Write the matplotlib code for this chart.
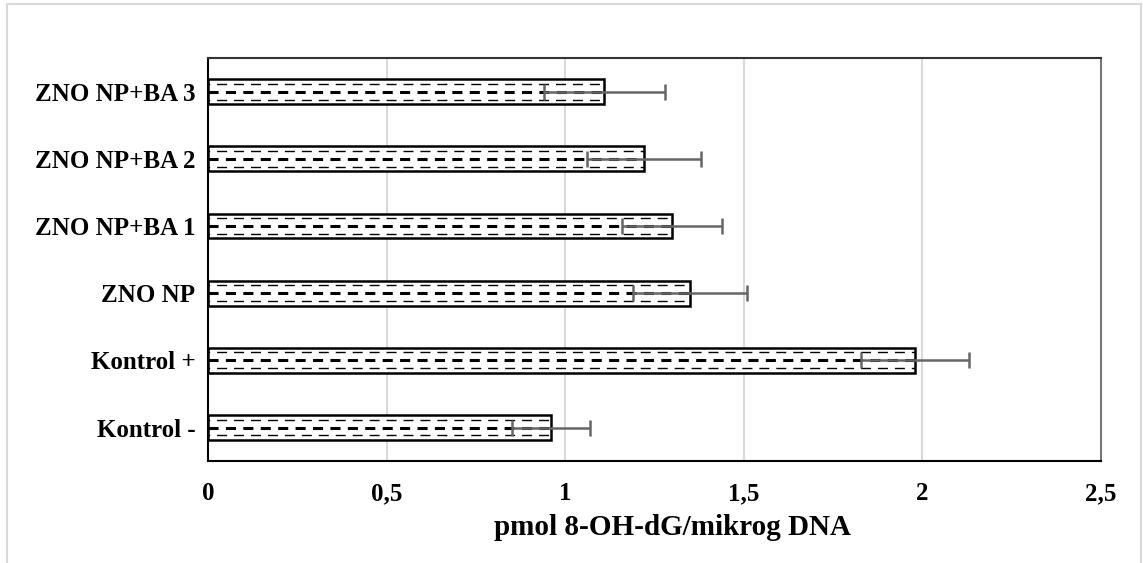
import matplotlib
matplotlib.use('Agg')
import matplotlib.pyplot as plt
from matplotlib.patches import Rectangle
import numpy as np

categories = ['Kontrol -', 'Kontrol +', 'ZNO NP', 'ZNO NP+BA 1', 'ZNO NP+BA 2', 'ZNO NP+BA 3']
values = [0.96, 1.98, 1.35, 1.30, 1.22, 1.11]
errors = [0.11, 0.15, 0.16, 0.14, 0.16, 0.17]
xticks = [0, 0.5, 1, 1.5, 2, 2.5]
xtick_labels = ['0', '0,5', '1', '1,5', '2', '2,5']
xlabel = 'pmol 8-OH-dG/mikrog DNA'

plt.rcParams['font.family'] = ['Liberation Serif', 'DejaVu Serif']
plt.rcParams['font.weight'] = 'bold'

fig = plt.figure(figsize=(11.43, 5.63), dpi=100)
# outer chart frame
fig.patches.append(Rectangle((0.006, -0.05), 0.992, 1.043, transform=fig.transFigure,
                             fill=False, edgecolor='#d9d9d9', linewidth=1.5))
ax = fig.add_axes([0.182, 0.181, 0.781, 0.716])

y = np.arange(len(categories))
h = 0.37
ax.barh(y, values, height=h, color='white', edgecolor='black', linewidth=1.8, zorder=3)

# dashed fill pattern inside each bar
for yi, v in zip(y, values):
    ax.hlines(yi, 0, v, colors='black', linewidth=2.2, linestyles=(0, (3.3, 2.4)), zorder=4)
    ax.hlines(yi - h * 0.32, 0, v, colors='black', linewidth=1.0, linestyles=(6.0, (7.2, 5.0)), zorder=4)
    ax.hlines(yi + h * 0.32, 0, v, colors='black', linewidth=1.0, linestyles=(6.0, (7.2, 5.0)), zorder=4)

ax.errorbar(values, y, xerr=errors, fmt='none', ecolor='#666666', elinewidth=1.8,
            capsize=5.5, capthick=1.8, zorder=5)

ax.set_xlim(0, 2.5)
ax.set_ylim(-0.5, len(categories) - 0.5)
ax.set_xticks(xticks)
ax.set_xticklabels(xtick_labels, fontsize=18, fontweight='bold')
ax.set_yticks(y)
ax.set_yticklabels(categories, fontsize=18, fontweight='bold')
ax.tick_params(axis='both', length=0)
ax.tick_params(axis='x', pad=15)
ax.tick_params(axis='y', pad=9)
ax.set_xlabel(xlabel, fontsize=21, fontweight='bold', labelpad=6)
ax.xaxis.set_label_coords(0.52, -0.13, transform=ax.transAxes)
ax.xaxis.label.set_va('top')

ax.grid(axis='x', color='#d9d9d9', linewidth=1.5, zorder=0)
ax.set_axisbelow(True)
ax.spines['left'].set_color('black')
ax.spines['bottom'].set_color('black')
ax.spines['top'].set_color('#333333')
ax.spines['right'].set_color('#777777')
for s in ax.spines.values():
    s.set_linewidth(1.5)

plt.savefig('out.png', dpi=100)
